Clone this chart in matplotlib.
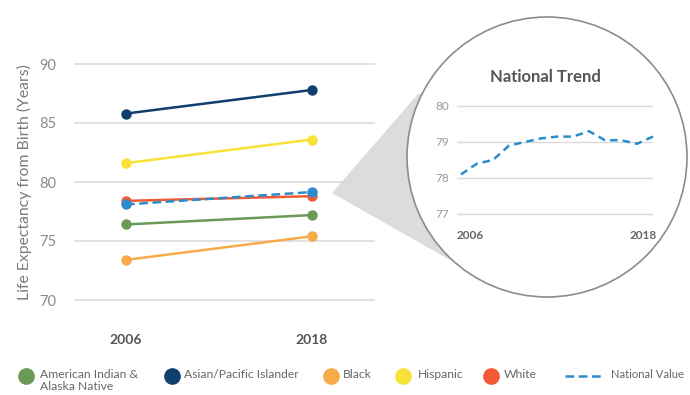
import matplotlib
matplotlib.use("Agg")
import matplotlib.pyplot as plt
from matplotlib.patches import Circle, Polygon
from matplotlib.lines import Line2D

plt.rcParams['font.family'] = ['Lato', 'DejaVu Sans']

# ---- data ----
years = [2006, 2018]
groups = ["American Indian &\nAlaska Native", "Asian/Pacific Islander", "Black", "Hispanic", "White"]
aian = [76.4, 77.2]
asian = [85.8, 87.8]
black = [73.4, 75.4]
hispanic = [81.6, 83.6]
white = [78.4, 78.8]
national = [78.1, 79.15]
series = [aian, asian, black, hispanic, white]
colors = ["#6b9a56", "#0f3f6e", "#f7aa4a", "#f8e238", "#f25a36"]
nat_color = "#2b8ccc"

trend_years = list(range(2006, 2019))
trend_values = [78.1, 78.4, 78.5, 78.9, 79.0, 79.1, 79.15, 79.15, 79.3, 79.05, 79.05, 78.95, 79.15]

main_yticks = [70, 75, 80, 85, 90]
inset_yticks = [77, 78, 79, 80]

W, H = 690, 395
fig = plt.figure(figsize=(W / 100, H / 100), dpi=100)

# background axes in pixel coords
bg = fig.add_axes([0, 0, 1, 1], zorder=0)
bg.set_xlim(0, W)
bg.set_ylim(H, 0)
bg.axis("off")
cx, cy, r = 547, 157, 140
bg.add_patch(Polygon([(332, 193), (418, 94), (547, 60), (547, 260), (450, 260)],
                     closed=True, facecolor="#dcdcdc", edgecolor="none", zorder=1))
bg.add_patch(Circle((cx, cy), r, facecolor="white", edgecolor="#8c8c8c", lw=1.2, zorder=2))

# main axes
ax = fig.add_axes([74 / W, (H - 311.8) / H, 301 / W, 259.6 / H], zorder=1)
ax.patch.set_alpha(0)
ax.set_ylim(69, 91)
ax.set_xlim(2006 - 52 / 15.5, 2018 + 63 / 15.5)
for s in ax.spines.values():
    s.set_visible(False)
ax.set_yticks(main_yticks)
ax.yaxis.grid(True, color="#d9d9d9", lw=1.1)
ax.set_axisbelow(True)
ax.tick_params(axis="y", length=0, pad=13, labelsize=10.5, labelcolor="#8a8a8a")
ax.set_xticks(years)
ax.set_xticklabels([str(y) for y in years], fontweight="bold")
ax.tick_params(axis="x", length=0, pad=16, labelsize=10, labelcolor="#555555")
for vals, c in zip(series, colors):
    ax.plot(years, vals, color=c, lw=1.8, marker="o", ms=6.5, zorder=3)
ax.plot(years, national, color=nat_color, lw=1.8, ls=(0, (3.5, 1.8)), marker="o", ms=6.5, zorder=4)
ax.set_ylabel("Life Expectancy from Birth (Years)", fontsize=11.3, color="#7a7a7a", labelpad=5)

# inset axes
ix = fig.add_axes([457 / W, (H - 221.2) / H, 196 / W, 122.4 / H], zorder=2)
ix.patch.set_alpha(0)
ix.set_xlim(2005.75, 2018)
ix.set_ylim(76.8, 80.2)
for s in ix.spines.values():
    s.set_visible(False)
ix.set_yticks(inset_yticks)
ix.yaxis.grid(True, color="#d9d9d9", lw=1.0)
ix.tick_params(axis="y", length=0, pad=6, labelsize=8.5, labelcolor="#9a9a9a")
ix.set_xticks([])
ix.plot(trend_years, trend_values, color=nat_color, lw=1.8, ls=(0, (3.0, 2.0)), clip_on=False)
ix.text(0, -0.12, "2006", transform=ix.transAxes, ha="left", va="center", fontsize=8.5,
        fontweight="bold", color="#666666")
ix.text(1.02, -0.12, "2018", transform=ix.transAxes, ha="right", va="center", fontsize=8.5,
        fontweight="bold", color="#666666")
fig.text(545 / W, 1 - 77 / H, "National Trend", ha="center", va="center", fontsize=12,
         fontweight="bold", color="#555555")

# legend
ly = 1 - 376 / H
mx = [26, 172, 331, 403, 491]
tx = [40, 184, 343, 418, 504]
for x, t, c, g in zip(mx, tx, colors, groups):
    fig.add_artist(Line2D([x / W], [ly], marker="o", ms=11, color=c, transform=fig.transFigure, ls=""))
    fig.text(t / W, 1 - 369 / H, g, ha="left", va="top", fontsize=8.7, color="#666666",
             linespacing=1.1)
fig.add_artist(Line2D([565 / W, 603 / W], [ly, ly], color=nat_color, lw=1.8, ls=(0, (3.5, 1.8)),
                      transform=fig.transFigure))
fig.text(611 / W, 1 - 369 / H, "National Value", ha="left", va="top", fontsize=8.1, color="#666666")

fig.savefig("out.png", dpi=100)
